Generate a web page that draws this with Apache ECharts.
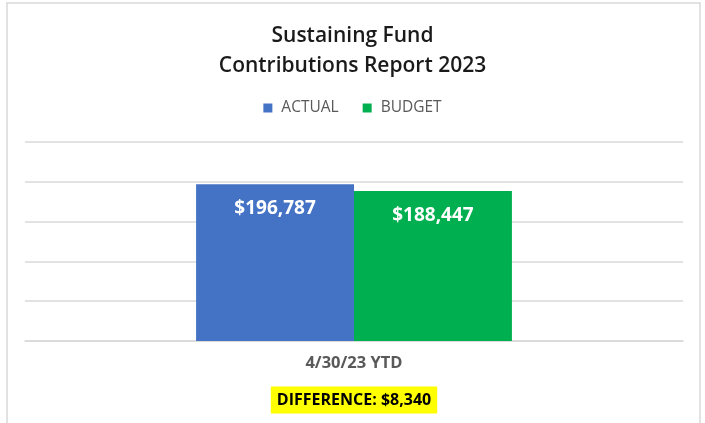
<!DOCTYPE html>
<html>
<head>
<meta charset="utf-8">
<script src="https://cdn.jsdelivr.net/npm/echarts@6/dist/echarts.min.js"></script>
<style>
  html, body { margin: 0; padding: 0; background: #fff; }
  #chart { width: 705px; height: 423px; }
</style>
</head>
<body>
<div id="chart"></div>
<script>
// chart data
const categories = ['4/30/23 YTD'];
const seriesNames = ['ACTUAL', 'BUDGET'];
const actualValues = [196787];
const budgetValues = [188447];
const axisMax = 250000;
const axisStep = 50000;

const colors = ['#4472c4', '#00b050'];
const money = (v) => '$' + v.toLocaleString('en-US');
const diff = actualValues[0] - budgetValues[0];

const myChart = echarts.init(document.getElementById('chart'));

const barLabel = {
  show: true,
  position: 'insideTop',
  distance: 15,
  color: '#fff',
  fontFamily: 'Open Sans',
  fontWeight: 'bold',
  fontSize: 19,
  formatter: (p) => money(p.value),
};

const option = {
  animation: false,
  title: {
    text: 'Sustaining Fund\nContributions Report 2023',
    left: 'center',
    top: 16,
    textStyle: {
      fontFamily: 'Open Sans',
      fontWeight: 600,
      fontSize: 21,
      lineHeight: 30,
      color: '#1a1a1a',
    },
  },
  legend: {
    data: seriesNames,
    top: 95,
    left: 'center',
    icon: 'rect',
    itemWidth: 9,
    itemHeight: 9,
    itemGap: 24,
    textStyle: {
      fontFamily: 'Open Sans',
      fontSize: 15.5,
      color: '#595959',
      padding: [0, 0, 0, 4],
    },
  },
  grid: {
    left: 25,
    right: 22,
    top: 142,
    bottom: 82,
  },
  xAxis: {
    type: 'category',
    data: categories,
    axisLine: { lineStyle: { color: '#d9d9d9', width: 1.5 } },
    axisTick: { show: false },
    axisLabel: {
      margin: 14,
      fontFamily: 'Open Sans',
      fontWeight: 'bold',
      fontSize: 16.5,
      color: '#595959',
    },
  },
  yAxis: {
    type: 'value',
    min: 0,
    max: axisMax,
    interval: axisStep,
    axisLabel: { show: false },
    axisLine: { show: false },
    axisTick: { show: false },
    splitLine: { lineStyle: { color: '#d9d9d9', width: 1.5 } },
  },
  series: [
    {
      name: seriesNames[0],
      type: 'bar',
      data: actualValues,
      barGap: '0%',
      barCategoryGap: '52%',
      itemStyle: { color: colors[0] },
      label: barLabel,
    },
    {
      name: seriesNames[1],
      type: 'bar',
      data: budgetValues,
      itemStyle: { color: colors[1] },
      label: barLabel,
    },
  ],
  graphic: [
    {
      type: 'rect',
      shape: { x: 7, y: 3, width: 693, height: 440 },
      style: { fill: 'none', stroke: '#d9d9d9', lineWidth: 1.5 },
      silent: true,
    },
    {
      type: 'text',
      x: 354,
      y: 400,
      style: {
        text: 'DIFFERENCE: ' + money(diff),
        align: 'center',
        verticalAlign: 'middle',
        fontFamily: 'Open Sans',
        fontWeight: 'bold',
        fontSize: 16,
        fill: '#000',
        backgroundColor: '#ffff00',
        padding: [6, 6, 5, 6],
      },
    },
  ],
};

myChart.setOption(option);
</script>
</body>
</html>
